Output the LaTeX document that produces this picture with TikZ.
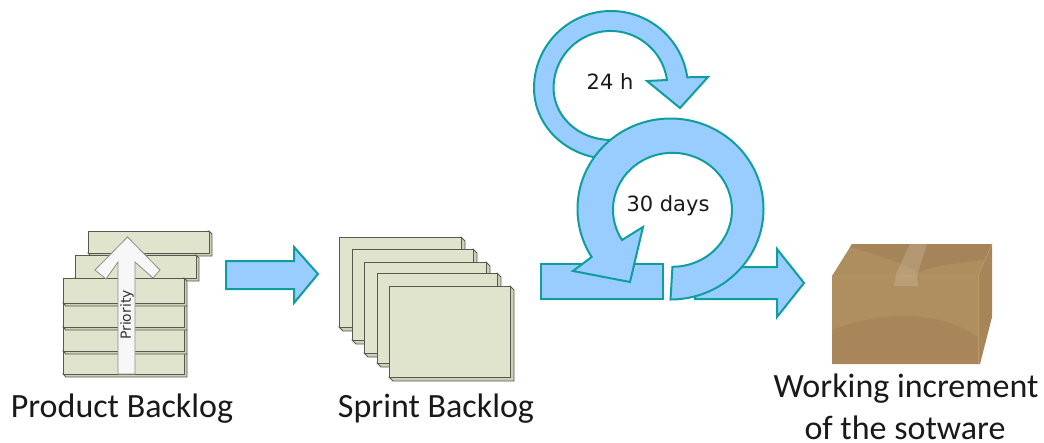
\documentclass[tikz,border=0pt]{standalone}
\usepackage{fontspec}
\setmainfont{Carlito}
\newfontfamily\dejavu{DejaVu Sans}
\definecolor{cardfill}{HTML}{E0E4CC}
\definecolor{cardside}{HTML}{CDD1BA}
\definecolor{cardedge}{HTML}{55594E}
\definecolor{flowfill}{HTML}{99CCFF}
\definecolor{flowedge}{HTML}{0F9E9E}
\definecolor{boxfront}{HTML}{AF8E60}
\definecolor{boxlow}{HTML}{A98659}
\definecolor{boxtop}{HTML}{AE8D5E}
\definecolor{boxtopdark}{HTML}{A6845A}
\definecolor{boxside}{HTML}{A68558}
\definecolor{boxline}{HTML}{BC9A68}
\tikzset{
  flow/.style={draw=flowedge,fill=flowfill,line width=2pt,line join=miter},
  cardface/.style={draw=cardedge,fill=cardfill,line width=1pt},
  cardsideface/.style={draw=cardedge,fill=cardside,line width=0.8pt},
  biglabel/.style={font=\fontsize{34}{36}\selectfont,text=black!90,inner sep=0pt},
  looplabel/.style={font=\dejavu\fontsize{21}{24}\selectfont,text=black!90,inner sep=0pt},
}
\newcommand{\plate}[5]{%
  \draw[cardsideface] (#3,#2) -- (#3+#5,#2+#5) -- (#3+#5,#4+#5) -- (#1+#5,#4+#5) -- (#1,#4) -- cycle;
  \draw[cardface] (#1,#2) rectangle (#3,#4);
}
\begin{document}
\begin{tikzpicture}[x=1pt,y=-1pt]
\useasboundingbox (0,0) rectangle (1044,442);
% product backlog
\plate{88}{231}{209}{253}{3}
\plate{75}{255}{196}{278}{3}
\plate{63}{351}{184}{374}{3}
\plate{63}{327}{184}{351}{3}
\plate{63}{303}{184}{327}{3}
\plate{63}{278}{184}{303}{3}
\draw[draw=black!45,fill=black!3,line width=0.8pt,line join=miter]
  (127.5,237) -- (160,270) -- (153,278) -- (135,262) -- (135,374) -- (118,374) -- (118,262) -- (106,279) -- (95,270) -- cycle;
\node[font=\dejavu\fontsize{14}{16}\selectfont,text=black!80,rotate=90,inner sep=0pt] (priority) at (127,315) {Priority};
\node[biglabel] (pb) at (122,409) {Product Backlog};
% arrow 1
\draw[flow] (226,261) -- (294,261) -- (294,247) -- (318,274) -- (294,303) -- (294,289) -- (226,289) -- cycle;
% sprint backlog
\plate{339}{237}{461}{327}{4}
\plate{352}{249}{473}{340}{4}
\plate{364}{262}{486}{353}{4}
\plate{377}{273}{497}{363}{4}
\plate{389}{286}{510}{377}{4}
\node[biglabel] (sb) at (436,409) {Sprint Backlog};
% daily loop
\draw[flow] (611,88) ++(80:77 and 71) arc[start angle=80,end angle=180,x radius=77,y radius=71]
  arc[start angle=180,end angle=352,radius=77] -- (708,77) -- (680,108) -- (647,81) -- (667,80)
  arc[start angle=352,end angle=180,radius=57] arc[start angle=180,end angle=80,x radius=57,y radius=52] -- cycle;
\node[looplabel] (day) at (610,82) {24 h};
% exit arrow
\draw[flow] (695,267) -- (777,267) -- (777,249) -- (804,283) -- (777,317) -- (777,299) -- (695,299) -- cycle;
% bar
\draw[flow] (541,264) rectangle (663,299);
% sprint loop
\draw[flow] (670.5,299.5) arc[start angle=90,end angle=-212,x radius=93,y radius=90.5] -- (573,271) -- (630,282) -- (643,227) -- (622,240)
  arc[start angle=-212,end angle=90,x radius=59.5,y radius=57] -- cycle;
\node[looplabel] (month) at (668,206) {30 days};
% box
\fill[boxtop] (832,276) -- (852,244) -- (992,244) -- (978,276) -- cycle;
\fill[boxtopdark] (850,247) -- (852,244) -- (992,244) -- (985,260) .. controls (960,262) and (935,266) .. (918,272) .. controls (900,262) and (875,254) .. (850,247) -- cycle;
\fill[boxside] (978,276) -- (992,244) -- (992,317) -- (980,364) -- (978,364) -- cycle;
\fill[boxfront] (832,276) rectangle (978,364);
\fill[boxlow] (832,330) .. controls (870,315) and (930,305) .. (978,337) -- (978,364) -- (832,364) -- cycle;
\draw[boxline,line width=0.6pt] (832,276) -- (978,276) -- (992,244);
\draw[boxline,line width=0.6pt] (978,276) -- (978,364);
\fill[white,opacity=0.15] (910,244) -- (927,244) -- (917,276) -- (918,286) -- (894,286) -- (896,274) -- cycle;
\node[biglabel] (wi) at (906,389) {Working increment};
\node[biglabel] (ws) at (905,428) {of the sotware};
\end{tikzpicture}
\end{document}
